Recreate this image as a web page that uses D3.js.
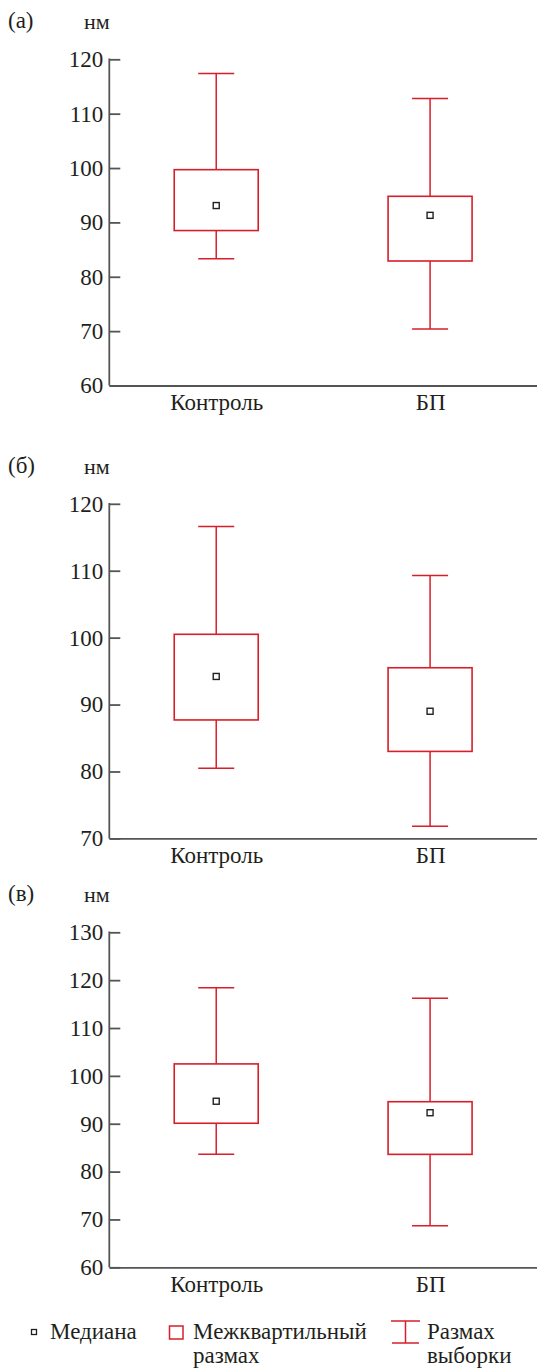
<!DOCTYPE html>
<html><head><meta charset="utf-8">
<script src="https://cdn.jsdelivr.net/npm/d3@7"></script>
</head><body style="margin:0;padding:0;background:#fff">
<script>
// ---- data ----
const categories = ["Контроль", "БП"];
const panelLabels = ["(а)", "(б)", "(в)"];
const unitLabel = "нм";
// per panel: [Контроль, БП]
const whiskerLow  = [[83.3, 70.4], [80.5, 71.8], [83.6, 68.7]];
const q1          = [[88.5, 82.9], [87.7, 83.0], [90.1, 83.6]];
const median      = [[93.1, 91.3], [94.2, 89.0], [94.7, 92.3]];
const q3          = [[99.7, 94.8], [100.5, 95.5], [102.5, 94.6]];
const whiskerHigh = [[117.4, 112.8], [116.6, 109.3], [118.4, 116.2]];
const yDomains = [[60, 120], [70, 120], [60, 130]];
const yTicks = [[60, 70, 80, 90, 100, 110, 120], [70, 80, 90, 100, 110, 120], [60, 70, 80, 90, 100, 110, 120, 130]];
const legendLabels = [["Медиана"], ["Межквартильный", "размах"], ["Размах", "выборки"]];

// ---- layout ----
const W = 537, H = 1368;
const red = "#d71f2a", axisCol = "#555", dark = "#231f20";
const FONT = '"Liberation Serif"';
const panels = [
  {top: 59.3, bottom: 385.5},
  {top: 503.8, bottom: 838.4},
  {top: 932.3, bottom: 1267.3}
];
const axisX = 109.3, rightX = 537;
const fs = 23;

const svg = d3.select("body").append("svg").attr("width", W).attr("height", H)
  .attr("font-family", "Liberation Serif")
  .style("font-family", FONT, "important");

const x = d3.scalePoint().domain(categories).range([axisX, rightX]).padding(0.5);
const boxW = 84, capW = 36, medS = 6;

function styleText(sel) {
  return sel.attr("font-family", "Liberation Serif")
    .style("font-family", FONT, "important").attr("fill", dark);
}

panels.forEach((p, i) => {
  const g = svg.append("g");
  const y = d3.scaleLinear().domain(yDomains[i]).range([p.bottom, p.top]);

  const ya = g.append("g").attr("transform", `translate(${axisX},0)`)
    .call(d3.axisLeft(y).tickValues(yTicks[i]).tickSizeInner(-11).tickSizeOuter(0).tickPadding(6).tickFormat(d3.format("d")));
  ya.attr("font-family", "Liberation Serif").attr("font-size", fs);
  ya.select(".domain").remove();
  ya.selectAll(".tick line").attr("stroke", axisCol).attr("stroke-width", 1.8);
  styleText(ya.selectAll(".tick text").attr("x", -6).attr("font-size", fs));
  g.append("line").attr("x1", axisX).attr("x2", axisX).attr("y1", y(yDomains[i][1]) - 0.9).attr("y2", p.bottom)
    .attr("stroke", axisCol).attr("stroke-width", 1.8);

  const xa = g.append("g").attr("transform", `translate(0,${p.bottom})`)
    .call(d3.axisBottom(x).tickSize(0).tickPadding(8));
  xa.attr("font-family", "Liberation Serif").attr("font-size", fs);
  xa.select(".domain").attr("stroke", axisCol).attr("stroke-width", 1.8);
  styleText(xa.selectAll(".tick text").attr("font-size", fs).attr("dy", "0.71em"));

  categories.forEach((c, j) => {
    const cx = x(c);
    g.append("line").attr("x1", cx).attr("x2", cx).attr("y1", y(whiskerHigh[i][j])).attr("y2", y(q3[i][j]))
      .attr("stroke", red).attr("stroke-width", 1.5);
    g.append("line").attr("x1", cx).attr("x2", cx).attr("y1", y(q1[i][j])).attr("y2", y(whiskerLow[i][j]))
      .attr("stroke", red).attr("stroke-width", 1.5);
    g.append("line").attr("x1", cx - capW / 2).attr("x2", cx + capW / 2).attr("y1", y(whiskerHigh[i][j])).attr("y2", y(whiskerHigh[i][j]))
      .attr("stroke", red).attr("stroke-width", 1.5);
    g.append("line").attr("x1", cx - capW / 2).attr("x2", cx + capW / 2).attr("y1", y(whiskerLow[i][j])).attr("y2", y(whiskerLow[i][j]))
      .attr("stroke", red).attr("stroke-width", 1.5);
    g.append("rect").attr("x", cx - boxW / 2).attr("width", boxW)
      .attr("y", y(q3[i][j])).attr("height", y(q1[i][j]) - y(q3[i][j]))
      .attr("fill", "none").attr("stroke", red).attr("stroke-width", 1.6);
    g.append("rect").attr("x", cx - medS / 2).attr("y", y(median[i][j]) - medS / 2)
      .attr("width", medS).attr("height", medS).attr("fill", "#fff").attr("stroke", dark).attr("stroke-width", 1.4);
  });
});

// panel labels and units (directly on the svg root)
panels.forEach((p, i) => {
  styleText(svg.append("text").attr("x", 8).attr("y", p.top - 31).attr("font-size", fs).text(panelLabels[i]));
  styleText(svg.append("text").attr("x", 84).attr("y", p.top - 30).attr("font-size", 22).text(unitLabel));
});

// ---- legend ----
const ly = 1339, lh = 24;
svg.append("rect").attr("x", 31.5).attr("y", 1329.5).attr("width", 5).attr("height", 5)
  .attr("fill", "#fff").attr("stroke", dark).attr("stroke-width", 1.3);
svg.append("rect").attr("x", 169.5).attr("y", 1326).attr("width", 13.5).attr("height", 13)
  .attr("fill", "none").attr("stroke", red).attr("stroke-width", 1.5);
svg.append("line").attr("x1", 391).attr("x2", 420).attr("y1", 1321).attr("y2", 1321).attr("stroke", red).attr("stroke-width", 1.5);
svg.append("line").attr("x1", 392).attr("x2", 419).attr("y1", 1343).attr("y2", 1343).attr("stroke", red).attr("stroke-width", 1.5);
svg.append("line").attr("x1", 405.5).attr("x2", 405.5).attr("y1", 1321).attr("y2", 1343).attr("stroke", red).attr("stroke-width", 1.5);

const legendX = [50, 193, 427];
legendLabels.forEach((lines, k) => {
  lines.forEach((s, m) => {
    styleText(svg.append("text").attr("x", legendX[k]).attr("y", ly + m * lh).attr("font-size", fs).text(s));
  });
});
</script>
</body></html>
